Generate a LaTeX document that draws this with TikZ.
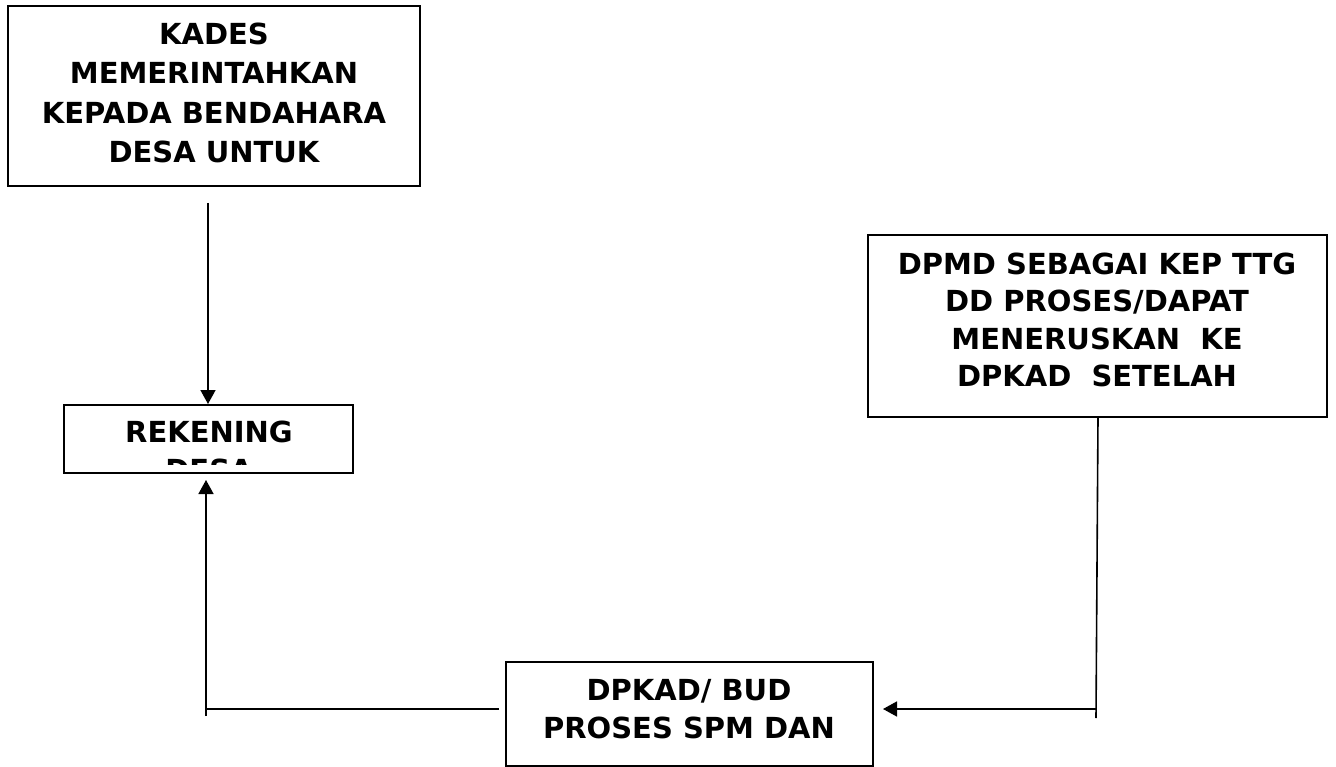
\documentclass[tikz,border=0pt]{standalone}
\usepackage{fontspec}
\setmainfont{DejaVu Sans}
\usetikzlibrary{arrows.meta}
\tikzset{
  box/.style={draw, line width=1.6pt, rectangle, inner sep=0pt},
  lbl/.style={align=center, font=\fontsize{29}{38}\selectfont\bfseries, inner sep=0pt},
  conn/.style={line width=1.6pt},
  arr/.style={line width=1.6pt, -{Triangle[length=14pt,width=15pt]}}
}
\begin{document}
\begin{tikzpicture}[x=1pt,y=-1pt]
\useasboundingbox (0,0) rectangle (1336,767);
% boxes
\node[box, minimum width=412pt, minimum height=180pt] (kades) at (214,96) {};
\node[lbl, font=\fontsize{29}{39.3}\selectfont\bfseries] (tkades) at (214,93) {KADES\\MEMERINTAHKAN\\KEPADA BENDAHARA\\DESA UNTUK};
\node[box, minimum width=289pt, minimum height=68pt] (rek) at (208.5,439) {};
\begin{scope}
\clip (65,406) rectangle (352,464);
\node[lbl, anchor=north] (trek) at (209,421) {REKENING\\DESA};
\end{scope}
\node[box, minimum width=459pt, minimum height=182pt] (dpmd) at (1097.5,326) {};
\node[lbl, font=\fontsize{29}{37.5}\selectfont\bfseries] (tdpmd) at (1097,320) {DPMD SEBAGAI KEP TTG\\DD PROSES/DAPAT\\MENERUSKAN\ \ KE\\DPKAD\ \ SETELAH};
\node[box, minimum width=367pt, minimum height=104pt] (dpkad) at (689.5,714) {};
\node[lbl] (tdpkad) at (689,709) {DPKAD/ BUD\\PROSES SPM DAN};
% connectors
\coordinate (a1s) at (208,203);
\coordinate (a1e) at (208,404);
\draw[arr] (a1s) -- (a1e);
\coordinate (c2) at (206,709);
\coordinate (c2b) at (206,716);
\coordinate (c3) at (499,709);
\draw[conn] (c3) -- (c2);
\draw[arr] (c2b) -- (206,480);
\coordinate (d1) at (1098,417);
\coordinate (d2) at (1096,718);
\coordinate (d3) at (1096,709);
\draw[conn] (d1) -- (d2);
\draw[arr] (d3) -- (883,709);
\end{tikzpicture}
\end{document}
